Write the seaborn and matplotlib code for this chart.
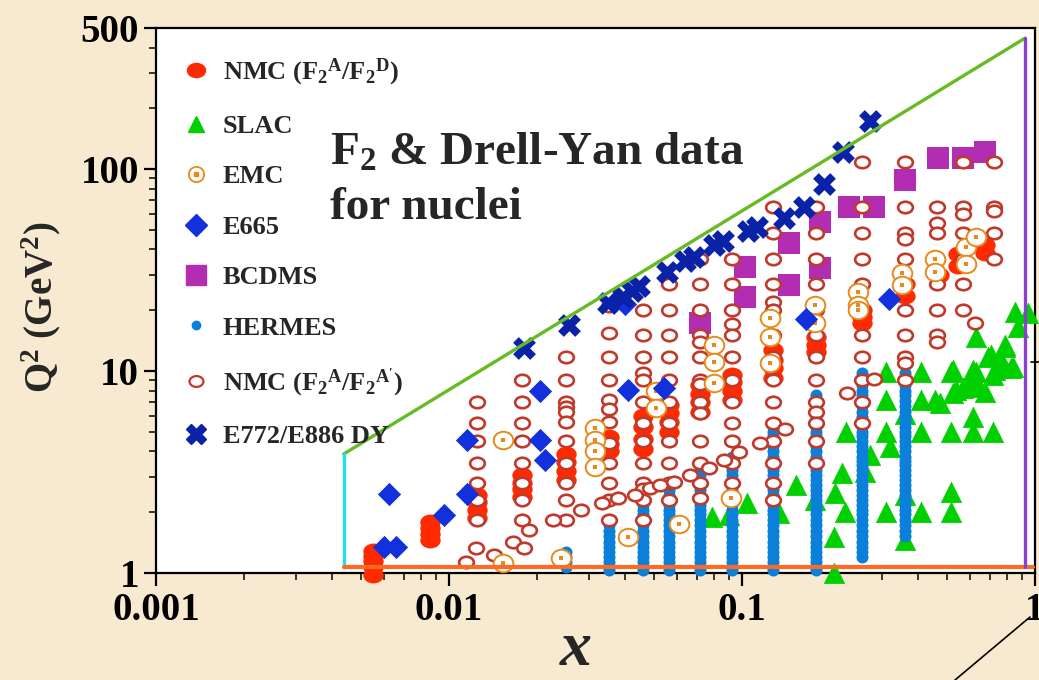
import numpy as np
import pandas as pd
import matplotlib
matplotlib.use("Agg")
import matplotlib.pyplot as plt
import seaborn as sns
from matplotlib.path import Path
from matplotlib.lines import Line2D
from matplotlib.ticker import FixedLocator, NullFormatter
from matplotlib.font_manager import FontProperties

# ---------------- data (x, Q^2) ----------------
# NMC (F2A/F2D) filled red
nmc_cols_x = [0.0055, 0.0086, 0.0125, 0.0177, 0.025, 0.0353, 0.0458, 0.0562,
              0.0718, 0.0925, 0.128, 0.179, 0.256, 0.361, 0.47, 0.545, 0.674]
nmc_cols_q2 = [[0.98, 1.07, 1.15, 1.22, 1.28],
               [1.46, 1.56, 1.67, 1.79],
               [1.87, 2.05, 2.25, 2.43],
               [2.38, 2.6, 2.8, 3.06],
               [2.9, 3.2, 3.55, 3.9],
               [4.0, 4.35, 4.7],
               [4.1, 4.6, 5.3, 6.0],
               [5.0, 5.6, 6.2, 6.8],
               [6.3, 7.0, 7.7, 8.5],
               [7.2, 8.0, 8.8, 9.6],
               [9.2, 10.3, 11.4, 12.7],
               [12.4, 13.5, 14.7],
               [17.3, 18.6, 20.0],
               [23.5, 27.0],
               [30.0],
               [33.0, 38.0],
               [38.5, 42.0]]

# SLAC
slac_x = [0.079, 0.090, 0.104, 0.134, 0.153, 0.178, 0.207, 0.206, 0.206, 0.220,
          0.224, 0.226, 0.262, 0.274, 0.309, 0.309, 0.309, 0.309, 0.321, 0.361,
          0.361, 0.361, 0.407, 0.407, 0.407, 0.407, 0.455, 0.473, 0.516, 0.516,
          0.516, 0.516, 0.524, 0.567, 0.599, 0.613, 0.613, 0.627, 0.638, 0.674,
          0.690, 0.718, 0.729, 0.789, 0.828, 0.765, 0.627, 0.855, 0.946, 0.875,
          0.789, 0.707, 0.524, 0.613, 0.759, 0.843, 0.537, 0.634, 0.718]
slac_q2 = [1.89, 1.94, 2.22, 1.98, 2.73, 2.30, 2.49, 1.51, 1.0, 3.13,
           2.0, 4.99, 3.16, 3.84, 9.9, 7.2, 4.99, 2.0, 4.2, 6.1,
           1.46, 2.43, 9.9, 7.2, 4.99, 2.0, 7.2, 6.95, 9.9, 4.99,
           2.52, 2.0, 7.8, 8.2, 8.8, 5.9, 4.99, 9.9, 8.5, 7.9,
           11.7, 4.99, 10.1, 13.1, 10.3, 11.3, 14.7, 19.6, 19.4, 16.5,
           13.4, 12.0, 10.1, 10.1, 10.3, 10.5, 8.05, 8.3, 9.55]

# EMC
emc_x = [0.0153, 0.0153, 0.0242, 0.0314, 0.0314, 0.0314, 0.0314, 0.041, 0.0508,
         0.0508, 0.0608, 0.080, 0.080, 0.080, 0.092, 0.1247, 0.1247, 0.1247,
         0.178, 0.178, 0.248, 0.248, 0.248, 0.353, 0.353, 0.455, 0.455, 0.58,
         0.58, 0.628]
emc_q2 = [4.55, 1.12, 1.19, 5.2, 4.55, 4.0, 3.35, 1.5, 8.0, 6.55, 1.75, 13.4,
          11.1, 8.7, 2.35, 18.3, 14.7, 11.0, 21.3, 17.3, 24.7, 21.3, 20.0, 30.6,
          26.6, 36.0, 30.9, 41.0, 34.0, 46.0]

# E665
e665_x = [0.0060, 0.0066, 0.00624, 0.00962, 0.0115, 0.0115, 0.0205, 0.0205,
          0.0212, 0.041, 0.054, 0.040, 0.166, 0.318]
e665_q2 = [1.35, 1.35, 2.46, 1.94, 2.46, 4.55, 7.96, 4.55, 3.63, 8.06, 8.2,
           21.5, 18.1, 22.7]

# BCDMS
bcdms_x = [0.0718, 0.1024, 0.1024, 0.145, 0.145, 0.185, 0.185, 0.232, 0.283,
           0.361, 0.466, 0.567, 0.674]
bcdms_q2 = [17.3, 32.7, 23.3, 43.0, 26.7, 54.7, 32.3, 64.9, 64.9, 88.2, 113.0,
            113.0, 121.0]

# HERMES: dense Q^2 levels per x column
hermes_levels = [1.03, 1.07, 1.13, 1.2, 1.27, 1.35, 1.43, 1.52, 1.62, 1.72, 1.83,
                 1.95, 2.05, 2.17, 2.3, 2.43, 2.57, 2.72, 2.88, 3.05, 3.23, 3.42,
                 3.6, 3.75, 4.0, 4.25, 4.5, 4.75, 5.0, 5.3, 5.6, 5.95, 6.3, 6.7,
                 7.1, 7.6, 8.0, 8.5, 9.1, 9.8]
hermes_x = [0.025, 0.0353, 0.0458, 0.0562, 0.0718, 0.0925, 0.128, 0.179, 0.256, 0.361]
hermes_q2_lo = [1.07, 1.03, 1.03, 1.03, 1.03, 1.03, 1.03, 1.03, 1.16, 1.46]
hermes_q2_hi = [1.30, 1.83, 2.17, 2.57, 3.23, 3.75, 5.3, 7.6, 9.8, 9.8]

# NMC (F2A/F2A') open circles
nmcp_cols_x = [0.0125, 0.0177, 0.025, 0.0353, 0.0458, 0.0562, 0.0718, 0.0925,
               0.128, 0.179, 0.256, 0.361, 0.462, 0.567, 0.724]
nmcp_cols_q2 = [[7.0, 5.5, 4.5, 3.5, 2.8, 2.3, 1.83],
                [9.0, 7.0, 5.5, 4.5, 3.5, 2.8, 2.3, 1.83],
                [11.7, 9.0, 7.0, 6.6, 6.3, 5.6, 4.5, 3.5, 2.8, 2.3, 1.83],
                [21.0, 15.4, 11.7, 9.0, 7.2, 6.5, 5.6, 4.4, 3.5, 2.8, 2.3, 1.83],
                [20.0, 15.0, 11.7, 9.8, 9.0, 7.0, 5.5, 4.5, 3.5, 2.8, 2.6, 2.3, 1.83],
                [27.0, 20.0, 15.0, 11.7, 9.0, 7.0, 5.5, 4.5, 3.5, 2.8, 2.3],
                [36.0, 27.0, 20.0, 15.0, 14.0, 11.7, 9.0, 8.6, 7.0, 6.2, 4.5, 3.5, 2.8, 2.35],
                [36.0, 27.0, 20.0, 17.0, 15.0, 11.7, 9.0, 7.0, 5.5, 4.5, 3.5, 2.8, 2.3],
                [65.0, 48.0, 36.0, 27.0, 22.0, 20.0, 15.0, 11.7, 9.0, 7.0, 5.5, 4.5, 3.5, 2.8, 2.3],
                [65.0, 48.0, 36.0, 27.0, 20.0, 15.0, 11.7, 9.0, 7.0, 6.3, 5.5, 4.5, 3.5],
                [108.0, 65.0, 48.0, 36.0, 27.0, 20.0, 15.0, 11.7, 9.0, 7.0, 5.5],
                [108.0, 65.0, 48.0, 45.0, 36.0, 27.0, 20.0, 15.0, 11.7, 11.0, 9.0],
                [65.0, 54.0, 48.0, 36.0, 27.0, 20.0, 15.0, 14.0],
                [108.0, 65.0, 60.0, 48.0, 36.0, 27.0, 20.0],
                [108.0, 65.0, 62.0, 48.0, 36.0]]
nmcp_extra_x = [0.0124, 0.0142, 0.0114, 0.0166, 0.0180, 0.0188, 0.0227, 0.0283,
                0.0332, 0.0379, 0.0430, 0.0484, 0.0525, 0.0585, 0.0664, 0.0770,
                0.0867, 0.0977, 0.1153, 0.140, 0.229, 0.283, 0.623]
nmcp_extra_q2 = [1.33, 1.23, 1.13, 1.42, 1.33, 1.63, 1.83, 2.05, 2.22, 2.35, 2.43,
                 2.63, 2.73, 2.82, 3.06, 3.3, 3.63, 3.97, 4.4, 5.17, 7.8, 9.1, 17.3]

# E772/E886 Drell-Yan
dy_x = [0.0181, 0.0256, 0.0350, 0.0394, 0.0420, 0.0444, 0.0553, 0.0638, 0.0685,
        0.0802, 0.0861, 0.105, 0.1125, 0.139, 0.163, 0.191, 0.222, 0.274]
dy_q2 = [13.0, 16.9, 21.7, 23.3, 24.9, 26.4, 30.9, 35.1, 36.7, 42.0, 44.0, 49.3,
         51.6, 57.2, 64.9, 84.3, 121.0, 173.0]

# kinematic region boundary corners
corner_x = [0.00437, 0.925, 1.0]
corner_q2 = [1.07, 3.88, 445.0]

x_ticks = [0.001, 0.01, 0.1, 1]
x_tick_labels = ["0.001", "0.01", "0.1", "1"]
y_ticks = [1, 10, 100, 500]
y_tick_labels = ["1", "10", "100", "500"]

legend_labels = [r"NMC (F$_2$$^A$/F$_2$$^D$)", "SLAC", "EMC", "E665", "BCDMS",
                 "HERMES", r"NMC (F$_2$$^A$/F$_2$$^{A'}$)", "E772/E886 DY"]

# ---------------- build frames ----------------
nmc = pd.DataFrame({"x": [x for x, qs in zip(nmc_cols_x, nmc_cols_q2) for _ in qs],
                    "q2": [q for qs in nmc_cols_q2 for q in qs]})
nmcp = pd.DataFrame({"x": [x for x, qs in zip(nmcp_cols_x, nmcp_cols_q2) for _ in qs] + nmcp_extra_x,
                     "q2": [q for qs in nmcp_cols_q2 for q in qs] + nmcp_extra_q2})
hx, hq = [], []
for x, lo, hi in zip(hermes_x, hermes_q2_lo, hermes_q2_hi):
    for q in hermes_levels:
        if lo <= q <= hi:
            hx.append(x)
            hq.append(q)
hermes = pd.DataFrame({"x": hx, "q2": hq})

# ---------------- style ----------------
sns.set_style("ticks")
plt.rcParams["font.family"] = ["Liberation Serif", "DejaVu Serif"]
plt.rcParams["font.weight"] = "bold"
plt.rcParams["mathtext.fontset"] = "custom"
plt.rcParams["mathtext.rm"] = "Liberation Serif:bold"
plt.rcParams["mathtext.it"] = "Liberation Serif:bold:italic"
plt.rcParams["mathtext.bf"] = "Liberation Serif:bold"
plt.rcParams["mathtext.default"] = "rm"

BG = "#F8EAD0"
C_NMC = "#FF2A00"
C_SLAC = "#00D000"
C_EMC = "#E88A1A"
C_E665 = "#1230DC"
C_BCDMS = "#B22DB2"
C_HERMES = "#0A80DA"
C_NMCP = "#C0392B"
C_DY = "#0A22A8"

circ = Path.unit_circle()
ell = Path(circ.vertices * np.array([1.28, 1.0]), circ.codes)
ell2 = Path(circ.vertices * np.array([1.12, 1.0]), circ.codes)

fig = plt.figure(figsize=(10.39, 6.80), dpi=100, facecolor=BG)
ax = fig.add_axes([0.1501, 0.1574, 0.846, 0.8015])
ax.set_facecolor("white")
ax.set_xscale("log")
ax.set_yscale("log")

common = dict(ax=ax, legend=False, clip_on=False)
sns.scatterplot(x=slac_x, y=slac_q2, marker="^", s=215, color=C_SLAC,
                edgecolor=C_SLAC, linewidth=0.5, zorder=3, **common)
sns.scatterplot(x=bcdms_x, y=bcdms_q2, marker="s", s=250, color=C_BCDMS,
                edgecolor=C_BCDMS, linewidth=0, zorder=3, **common)
sns.scatterplot(data=nmc, x="x", y="q2", marker=ell, s=215, color=C_NMC,
                edgecolor=C_NMC, linewidth=0, zorder=4, **common)
sns.scatterplot(data=hermes, x="x", y="q2", marker="o", s=75, color=C_HERMES,
                edgecolor=C_HERMES, linewidth=0, zorder=5, **common)
sns.scatterplot(data=nmcp, x="x", y="q2", marker=ell, s=112, color="white",
                edgecolor=C_NMCP, linewidth=1.9, zorder=6, **common)
sns.scatterplot(x=emc_x, y=emc_q2, marker=ell2, s=200, color="white",
                edgecolor=C_EMC, linewidth=1.4, zorder=7, **common)
sns.scatterplot(x=emc_x, y=emc_q2, marker="s", s=8, color=C_EMC,
                edgecolor=C_EMC, linewidth=0, zorder=7.5, **common)
sns.scatterplot(x=e665_x, y=e665_q2, marker="D", s=140, color=C_E665,
                edgecolor=C_E665, linewidth=0, zorder=8, **common)
sns.scatterplot(x=dy_x, y=dy_q2, marker="X", s=270, color=C_DY,
                edgecolor=C_DY, linewidth=0, zorder=9, **common)

# boundary lines
ax.plot([corner_x[0], corner_x[1]], [corner_q2[1], corner_q2[2]], color="#66BB22", lw=2.4, zorder=10)
ax.plot([corner_x[0], corner_x[0]], [corner_q2[0], corner_q2[1]], color="#22E0F0", lw=2.4, zorder=10)
ax.plot([corner_x[0], corner_x[2] * 0.985], [corner_q2[0], corner_q2[0]], color="#FF6A22", lw=3.0, zorder=10)
ax.plot([corner_x[1], corner_x[1]], [corner_q2[0], corner_q2[2]], color="#8A3FD0", lw=2.4, zorder=10)

ax.set_xlim(0.001, 1)
ax.set_ylim(1, 500)

ax.xaxis.set_major_locator(FixedLocator(x_ticks))
ax.set_xticklabels(x_tick_labels)
ax.yaxis.set_major_locator(FixedLocator(y_ticks))
ax.set_yticklabels(y_tick_labels)
xminor = [m * 10.0 ** e for e in (-3, -2, -1) for m in range(2, 10)]
yminor = [m * 10.0 ** e for e in (0, 1) for m in range(2, 10)] + [200, 300, 400]
ax.xaxis.set_minor_locator(FixedLocator(xminor))
ax.yaxis.set_minor_locator(FixedLocator(yminor))
ax.xaxis.set_minor_formatter(NullFormatter())
ax.yaxis.set_minor_formatter(NullFormatter())
ax.tick_params(which="major", direction="out", length=9, width=1.6, labelsize=28,
               pad=3, top=False, right=False, colors="black")
ax.tick_params(axis="x", which="major", pad=5)
ax.tick_params(which="minor", direction="out", length=5, width=1.3,
               top=False, right=False)
for lab in ax.get_xticklabels() + ax.get_yticklabels():
    lab.set_fontweight("bold")
for sp in ax.spines.values():
    sp.set_linewidth(1.6)
    sp.set_color("black")
    sp.set_visible(True)

xfont = FontProperties(family="Liberation Serif", style="italic", weight="bold", size=46)
ax.set_xlabel("x", fontproperties=xfont)
ax.xaxis.set_label_coords(0.478, -0.088)
ax.set_ylabel(r"Q$^2$ (GeV$^2$)", fontsize=28, fontweight="bold")
ax.yaxis.set_label_coords(-0.106, 0.488)

ax.text(0.198, 0.75, r"F$_2$ & Drell-Yan data", transform=ax.transAxes,
        fontsize=34, fontweight="bold", va="baseline", ha="left", zorder=11)
ax.text(0.198, 0.65, "for nuclei", transform=ax.transAxes,
        fontsize=34, fontweight="bold", va="baseline", ha="left", zorder=11)

# legend
handles = [
    Line2D([], [], ls="", marker=ell, ms=13, mfc=C_NMC, mec=C_NMC),
    Line2D([], [], ls="", marker="^", ms=11, mfc=C_SLAC, mec=C_SLAC),
    (Line2D([], [], ls="", marker="o", ms=11, mfc="white", mec=C_EMC, mew=1.3),
     Line2D([], [], ls="", marker="s", ms=2.5, mfc=C_EMC, mec=C_EMC)),
    Line2D([], [], ls="", marker="D", ms=11, mfc=C_E665, mec=C_E665),
    Line2D([], [], ls="", marker="s", ms=14, mfc=C_BCDMS, mec=C_BCDMS),
    Line2D([], [], ls="", marker="o", ms=6, mfc=C_HERMES, mec=C_HERMES),
    Line2D([], [], ls="", marker=ell, ms=10, mfc="white", mec=C_NMCP, mew=1.6),
    Line2D([], [], ls="", marker="X", ms=14, mfc=C_DY, mec=C_DY),
]
leg = ax.legend(handles, legend_labels, loc="upper left", bbox_to_anchor=(0.031, 0.948),
                frameon=False, fontsize=19, handlelength=1.0, handletextpad=0.5,
                labelspacing=1.02, borderaxespad=0, borderpad=0)
leg.set_zorder(12)
for t in leg.get_texts():
    t.set_fontweight("bold")

# outside annotation strokes
fig.add_artist(Line2D([1030 / 1039, 955 / 1039], [1 - 617 / 680, 0.0], color="black", lw=1.2))
fig.add_artist(Line2D([1031 / 1039, 1039 / 1039], [1 - 362 / 680, 1 - 362 / 680], color="black", lw=1.2))

fig.savefig("out.png", dpi=100, facecolor=BG)
